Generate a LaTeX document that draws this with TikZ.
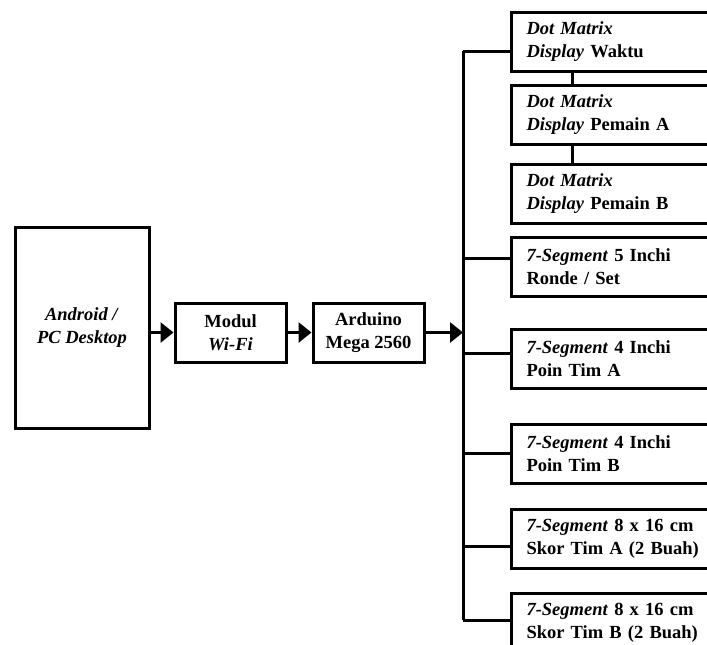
\documentclass[tikz,border=0pt]{standalone}
\usepackage{fontspec}
\setmainfont{Liberation Serif}
\usetikzlibrary{arrows.meta}
\begin{document}
\begin{tikzpicture}[x=1pt,y=-1pt,
  line width=3pt,
  every node/.style={font=\fontsize{18.5}{23}\selectfont\bfseries},
  box/.style={draw,rectangle,inner sep=0pt,align=center},
  outbox/.style={draw,rectangle,anchor=north west,minimum height=59,
    inner xsep=15,inner ysep=0,text width=220,align=left},
  arr/.style={-{Triangle[length=13pt,width=20pt]}}]
\useasboundingbox (0,0) rectangle (707,645);
\clip (0,0) rectangle (707,645);

% input chain
\node[box,minimum width=134,minimum height=201] (android) at (82,327.5)
  {\textit{Android /}\\\textit{PC Desktop}};
\node[box,minimum width=111,minimum height=59] (wifi) at (230.5,332.5)
  {Modul\\\textit{Wi-Fi}};
\node[box,minimum width=111,minimum height=59] (mega) at (368.5,332.5)
  {Arduino\\Mega 2560};

% output displays
\node[outbox] (d1) at (510,11)  {\textit{Dot Matrix}\\\textit{Display} Waktu};
\node[outbox] (d2) at (510,84)  {\textit{Dot Matrix}\\\textit{Display} Pemain A};
\node[outbox] (d3) at (510,163) {\textit{Dot Matrix}\\\textit{Display} Pemain B};
\node[outbox] (s1) at (510,236) {\textit{7-Segment} 5 Inchi\\Ronde / Set};
\node[outbox] (s2) at (510,328) {\textit{7-Segment} 4 Inchi\\Poin Tim A};
\node[outbox] (s3) at (510,423) {\textit{7-Segment} 4 Inchi\\Poin Tim B};
\node[outbox] (s4) at (510,508) {\textit{7-Segment} 8 x 16 cm\\Skor Tim A (2 Buah)};
\node[outbox] (s5) at (510,592) {\textit{7-Segment} 8 x 16 cm\\Skor Tim B (2 Buah)};

% bus taps
\coordinate (b1) at (463,51);
\coordinate (b2) at (463,258);
\coordinate (b3) at (463,353);
\coordinate (b4) at (463,453);
\coordinate (b5) at (463,546);
\coordinate (b6) at (463,620);
\coordinate (v) at (572,0);

% arrows along the chain
\draw[arr] (android.east |- wifi.west) -- (wifi.west);
\draw[arr] (wifi.east) -- (mega.west);
\draw[arr] (mega.east) -- (mega.east -| b1);

% distribution bus and branches
\draw (b1) -- (b6);
\draw (b1) -- (b1 -| d1.west);
\draw (b2) -- (b2 -| s1.west);
\draw (b3) -- (b3 -| s2.west);
\draw (b4) -- (b4 -| s3.west);
\draw (b5) -- (b5 -| s4.west);
\draw (b6) -- (b6 -| s5.west);

% chained dot matrix displays
\draw (d1.south -| v) -- (d2.north -| v);
\draw (d2.south -| v) -- (d3.north -| v);
\end{tikzpicture}
\end{document}
